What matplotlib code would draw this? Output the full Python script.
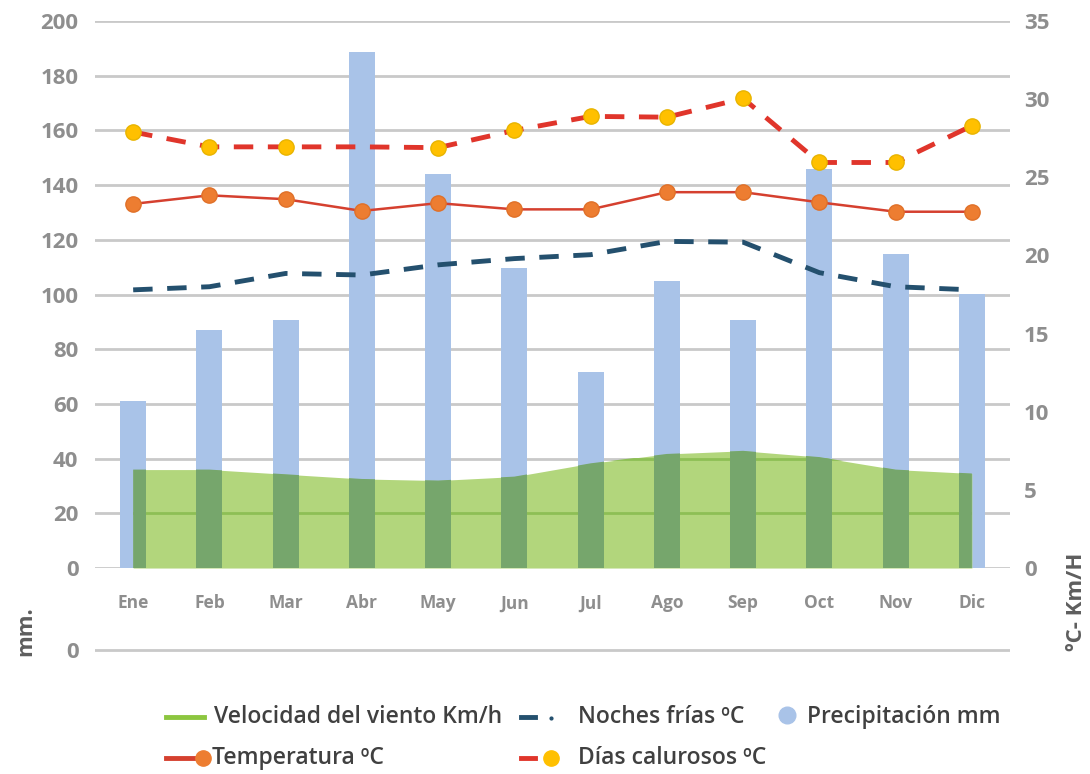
import numpy as np
import matplotlib
matplotlib.use("Agg")
import matplotlib.pyplot as plt
from matplotlib.lines import Line2D

plt.rcParams['font.family'] = ['Open Sans', 'DejaVu Sans']

# datos
meses = ["Ene", "Feb", "Mar", "Abr", "May", "Jun", "Jul", "Ago", "Sep", "Oct", "Nov", "Dic"]
precipitacion = [61, 87, 90.7, 188.7, 144, 109.7, 71.7, 105, 90.7, 146, 114.8, 100.2]   # mm
viento = [6.3, 6.3, 6.0, 5.7, 5.6, 5.85, 6.7, 7.3, 7.5, 7.1, 6.3, 6.05]                  # Km/h
temperatura = [23.3, 23.85, 23.6, 22.85, 23.35, 22.95, 22.95, 24.05, 24.05, 23.4, 22.8, 22.8]
dias_calurosos = [27.9, 26.95, 26.95, 26.95, 26.9, 28.0, 28.9, 28.85, 30.05, 25.95, 25.95, 28.3]
noches_frias = [17.8, 18.0, 18.85, 18.75, 19.4, 19.8, 20.05, 20.9, 20.85, 18.9, 18.0, 17.8]

ticks_mm = list(range(0, 201, 20))
ticks_c = list(range(0, 36, 5))

GRIS = "#8e8e8e"
AZUL = "#a9c3e8"
VERDE = "#b2d67c"
VERDE_OSC = "#76a66c"

fig = plt.figure(figsize=(10.9, 7.74), dpi=100)
ax = fig.add_axes([0.0872, 0.2661, 0.8394, 0.7067])
ax2 = ax.twinx()

x = np.arange(len(meses))
ax.set_xlim(-0.5, len(meses) - 0.5)
ax.set_ylim(0, 200)
ax2.set_ylim(0, 35)

# rejilla
ax.set_yticks(ticks_mm)
ax.grid(axis="y", color="#c9c9c9", lw=2, zorder=0)
ax.set_axisbelow(True)

# precipitacion
ax.bar(x, precipitacion, width=0.34, color=AZUL, zorder=1)

# velocidad del viento (area en escala derecha)
area = ax.fill_between(x, 0, viento, color=VERDE, lw=0, zorder=2, transform=ax2.transData)
clip = area.get_paths()[0]
for t in ticks_mm[1:3]:
    gl = ax.axhline(t, color="#8dbf55", lw=2, zorder=2.5)
    gl.set_clip_path(clip, ax2.transData)
oscuras = ax.bar(x, precipitacion, width=0.34, color=VERDE_OSC, zorder=3)
for b in oscuras:
    b.set_clip_path(clip, ax2.transData)
ax.set_ylim(0, 200)

# lineas de temperatura
ax2.plot(x, noches_frias, color="#24506e", lw=3.5, dashes=(4, 3), zorder=4)
ax2.plot(x, dias_calurosos, color="#e0352b", lw=3.5, dashes=(4, 3), zorder=4)
ax2.plot(x, dias_calurosos, ls="none", marker="o", ms=11, mfc="#ffc000", mec="#e8b400",
         markevery=[0, 1, 2, 4, 5, 6, 7, 8, 9, 10, 11], zorder=5)
ax2.plot(x, temperatura, color="#d5402f", lw=1.8, marker="o", ms=11,
         mfc="#ed7d31", mec="#e07028", zorder=5)

ax.set_xticks(x)
ax.set_xticklabels(meses)
ax2.set_yticks(ticks_c)
for a in (ax, ax2):
    for s in a.spines.values():
        s.set_visible(False)
    a.tick_params(length=0, colors=GRIS)
ax.tick_params(axis="x", pad=19, labelsize=12.5)
ax.tick_params(axis="y", pad=12, labelsize=16)
ax2.tick_params(axis="y", pad=10, labelsize=16)
for lab in ax.get_xticklabels() + ax.get_yticklabels() + ax2.get_yticklabels():
    lab.set_fontweight("bold")

# eje extra con el 0 de abajo
axb = fig.add_axes([0.0872, 0.1512, 0.8394, 0.018])
axb.set_xlim(0, 1)
axb.set_ylim(-1, 1)
axb.set_xticks([])
axb.set_yticks([0])
axb.grid(axis="y", color="#c9c9c9", lw=2)
for s in axb.spines.values():
    s.set_visible(False)
axb.tick_params(length=0, colors=GRIS, pad=12, labelsize=16)
for lab in axb.get_yticklabels():
    lab.set_fontweight("bold")

fig.text(0.024, 0.185, "mm.", rotation=90, ha="center", va="center",
         fontsize=16, fontweight="bold", color="#5e5e5e")
fig.text(0.988, 0.222, "ºC- Km/H", rotation=90, ha="center", va="center",
         fontsize=16, fontweight="bold", color="#5e5e5e")

# leyenda
def fx(px):
    return px / 1090.0

def fy(py):
    return 1 - py / 774.0

leg_txt = dict(fontsize=16.5, color="#404040", va="center", fontweight="semibold")
r1, r2 = 717, 758
fig.add_artist(Line2D([fx(166), fx(204)], [fy(r1), fy(r1)], color="#8cc63f", lw=3.5))
fig.text(fx(214), fy(r1), "Velocidad del viento Km/h", **leg_txt)
fig.add_artist(Line2D([fx(521), fx(535)], [fy(r1), fy(r1)], color="#24506e", lw=3.5))
fig.add_artist(Line2D([fx(551)], [fy(r1 + 1)], color="#24506e", marker="o", ms=2, ls="none"))
fig.text(fx(578), fy(r1), "Noches frías ºC", **leg_txt)
fig.add_artist(Line2D([fx(787)], [fy(r1 - 2)], marker="o", ms=12, mfc=AZUL, mec=AZUL, ls="none"))
fig.text(fx(807), fy(r1), "Precipitación mm", **leg_txt)
fig.add_artist(Line2D([fx(166), fx(200)], [fy(r2), fy(r2)], color="#d5402f", lw=3.5))
fig.add_artist(Line2D([fx(203)], [fy(r2)], marker="o", ms=11, mfc="#ed7d31", mec="#ed7d31", ls="none"))
fig.text(fx(212), fy(r2), "Temperatura ºC", **leg_txt)
fig.add_artist(Line2D([fx(521), fx(535)], [fy(r2), fy(r2)], color="#e0352b", lw=3.5))
fig.add_artist(Line2D([fx(551)], [fy(r2)], marker="o", ms=11, mfc="#ffc000", mec="#ffc000", ls="none"))
fig.text(fx(578), fy(r2), "Días calurosos ºC", **leg_txt)

fig.savefig("out.png", dpi=100)
